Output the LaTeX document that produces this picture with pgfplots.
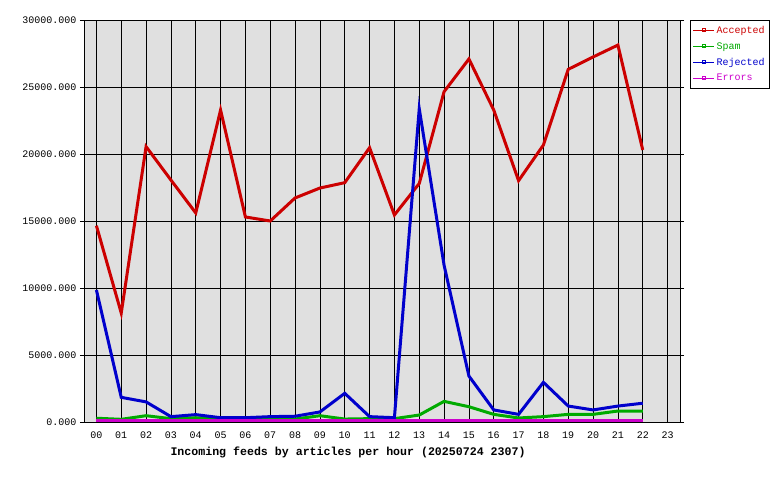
\documentclass[border=0pt]{standalone}
\usepackage{pgfplots}
\pgfplotsset{compat=1.18}
\usepackage{fontspec}
\setmainfont{Liberation Mono}
\setmonofont{Liberation Mono}
\definecolor{acc}{HTML}{CC0000}
\definecolor{spm}{HTML}{00AA00}
\definecolor{rej}{HTML}{0000CC}
\definecolor{err}{HTML}{CC00CC}
\definecolor{bg}{HTML}{E0E0E0}
\begin{document}
\begin{tikzpicture}[x=1pt,y=1pt]
\path[use as bounding box] (0,0) rectangle (780,480);
\begin{axis}[
  at={(84pt,58pt)}, anchor=south west,
  scale only axis, width=596pt, height=402pt,
  xmin=-0.5, xmax=23.5, ymin=0, ymax=30000,
  xtick={0,...,23},
  xticklabels={00,01,02,03,04,05,06,07,08,09,10,11,12,13,14,15,16,17,18,19,20,21,22,23},
  ytick={0,5000,10000,15000,20000,25000,30000},
  scaled y ticks=false,
  y tick label style={/pgf/number format/.cd, fixed, fixed zerofill, precision=3, 1000 sep={}, assume math mode=true},
  x tick label style={yshift=-2pt},
  tick label style={font=\fontsize{10}{10}\selectfont},
  grid=major,
  major grid style={black, line width=0.8pt},
  axis background/.style={fill=bg},
  axis line style={black, line width=0.8pt},
  xtick style={draw=none},
  ytick style={black, line width=0.8pt},
  tick align=outside, major tick length=4pt,
  xlabel={\bfseries Incoming feeds by articles per hour (20250724 2307)},
  xlabel style={at={(axis description cs:0.443,0)}, anchor=center, yshift=-30pt, font=\fontsize{11.6}{12}\selectfont},
  legend style={at={(1.0168,1)}, anchor=north west, draw=black, fill=white,
    font=\fontsize{10}{11}\selectfont, inner xsep=2.5pt, inner ysep=4pt, row sep=3.5pt},
  legend cell align=left,
  legend image code/.code={
    \draw[#1, line width=0.8pt] (0pt,0pt) -- (21pt,0pt);
    \draw[#1, line width=0.6pt, fill=none] (9pt,-0.5pt) rectangle (12pt,2.5pt);
  },
]
\addplot[acc, line width=3pt, mark=none] coordinates {
(0,14650) (1,8130) (2,20550) (3,18060) (4,15600) (5,23280) (6,15300) (7,15000)
(8,16720) (9,17460) (10,17860) (11,20470) (12,15450) (13,17800) (14,24650)
(15,27090) (16,23280) (17,18010) (18,20670) (19,26320) (20,27240) (21,28130) (22,20300)};
\addlegendentry{\textcolor{acc}{Accepted}}
\addplot[spm, line width=3pt, mark=none] coordinates {
(0,280) (1,200) (2,470) (3,250) (4,320) (5,220) (6,220) (7,250)
(8,220) (9,470) (10,220) (11,250) (12,250) (13,520) (14,1540)
(15,1140) (16,570) (17,300) (18,400) (19,570) (20,570) (21,820) (22,820)};
\addlegendentry{\textcolor{spm}{Spam}}
\addplot[rej, line width=3pt, mark=none] coordinates {
(0,9850) (1,1840) (2,1500) (3,400) (4,550) (5,320) (6,320) (7,400)
(8,430) (9,750) (10,2140) (11,400) (12,320) (13,23380) (14,11700)
(15,3430) (16,900) (17,570) (18,2960) (19,1190) (20,900) (21,1190) (22,1400)};
\addlegendentry{\textcolor{rej}{Rejected}}
\addplot[err, line width=3pt, mark=none] coordinates {
(0,80) (1,80) (2,80) (3,80) (4,80) (5,80) (6,80) (7,80)
(8,80) (9,80) (10,80) (11,80) (12,80) (13,80) (14,80)
(15,80) (16,80) (17,80) (18,80) (19,80) (20,80) (21,80) (22,80)};
\addlegendentry{\textcolor{err}{Errors}}
\end{axis}
\end{tikzpicture}
\end{document}
